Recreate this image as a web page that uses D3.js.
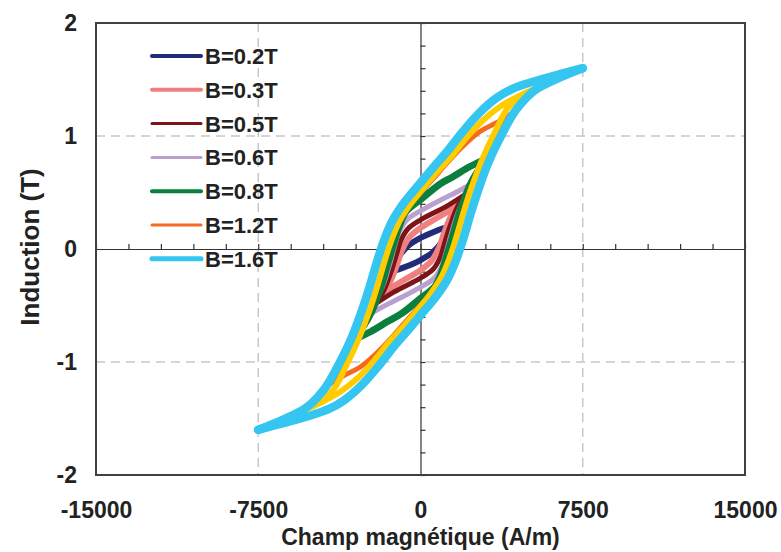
<!DOCTYPE html>
<html>
<head>
<meta charset="utf-8">
<script src="https://cdn.jsdelivr.net/npm/d3@7"></script>
<style>
  html, body { margin: 0; padding: 0; background: #ffffff; }
  svg { display: block; font-family: "Liberation Sans", Arial, sans-serif; }
</style>
</head>
<body>
<svg id="chart" width="781" height="552"></svg>
<script>
// ---------------- data ----------------
const xTickLabels = [-15000, -7500, 0, 7500, 15000];
const yTickLabels = [-2, -1, 0, 1, 2];
const legendLabels = ["B=0.2T", "B=0.3T", "B=0.5T", "B=0.6T", "B=0.8T", "B=1.2T", "B=1.6T"];
const xTitle = "Champ magnétique (A/m)";
const yTitle = "Induction (T)";

// each loop: descending branch (from +tip to -tip) and ascending branch (from -tip to +tip), [H (A/m), B (T)]
const down02 = [[1450,0.21],[720,0.16],[20,0.10],[-580,0.027],[-950,-0.053],[-1180,-0.124],[-1450,-0.21]];
const up02   = [[-1450,-0.21],[-720,-0.16],[-20,-0.10],[580,-0.027],[950,0.053],[1180,0.124],[1450,0.21]];

const down03 = [[1870,0.40],[900,0.29],[20,0.19],[-530,0.10],[-850,-0.01],[-1090,-0.14],[-1410,-0.29],[-1870,-0.40]];
const up03   = [[-1870,-0.40],[-900,-0.29],[-20,-0.19],[530,-0.10],[850,0.01],[1090,0.14],[1410,0.29],[1870,0.40]];

const down05 = [[2200,0.50],[1220,0.38],[20,0.26],[-580,0.18],[-900,0.08],[-1090,-0.035],[-1360,-0.20],[-1730,-0.38],[-2200,-0.50]];
const up05   = [[-2200,-0.50],[-1220,-0.38],[-20,-0.26],[580,-0.18],[900,-0.08],[1090,0.035],[1360,0.20],[1730,0.38],[2200,0.50]];

const down06 = [[2450,0.59],[1830,0.52],[900,0.43],[20,0.34],[-620,0.26],[-990,0.15],[-1180,0.035],[-1410,-0.124],[-1730,-0.32],[-2100,-0.47],[-2450,-0.59]];
const up06   = [[-2450,-0.59],[-1830,-0.52],[-900,-0.43],[-20,-0.34],[620,-0.26],[990,-0.15],[1180,-0.035],[1410,0.124],[1730,0.32],[2100,0.47],[2450,0.59]];

const down08 = [[3050,0.80],[2290,0.73],[1500,0.64],[900,0.575],[20,0.44],[-670,0.33],[-990,0.195],[-1225,0.053],[-1500,-0.124],[-1870,-0.363],[-2330,-0.584],[-3050,-0.80]];
const up08   = [[-3050,-0.80],[-2290,-0.73],[-1500,-0.64],[-900,-0.575],[-20,-0.44],[670,-0.33],[990,-0.195],[1225,-0.053],[1500,0.124],[1870,0.363],[2330,0.584],[3050,0.80]];

const down12 = [[4150,1.19],[3540,1.12],[2750,1.04],[1960,0.91],[1220,0.76],[580,0.62],[20,0.50],[-580,0.37],[-1040,0.24],[-1360,0.08],[-1640,-0.10],[-1960,-0.32],[-2330,-0.54],[-2890,-0.78],[-3540,-1.00],[-4150,-1.19]];
const up12   = [[-4150,-1.19],[-3540,-1.12],[-2750,-1.04],[-1960,-0.91],[-1220,-0.76],[-580,-0.62],[-20,-0.50],[580,-0.37],[1040,-0.24],[1360,-0.08],[1640,0.10],[1960,0.32],[2330,0.54],[2890,0.78],[3540,1.00],[4150,1.19]];

const down14 = [[5350,1.425],[4460,1.345],[3680,1.26],[2890,1.14],[2150,0.99],[1470,0.83],[830,0.695],[270,0.57],[-450,0.40],[-975,0.245],[-1340,0.08],[-1650,-0.10],[-2020,-0.34],[-2390,-0.56],[-2870,-0.80],[-3430,-1.03],[-4090,-1.26],[-4780,-1.345],[-5350,-1.425]];
const up14   = [[-5350,-1.425],[-4460,-1.345],[-3680,-1.26],[-2890,-1.14],[-2150,-0.99],[-1470,-0.83],[-830,-0.695],[-270,-0.57],[450,-0.40],[975,-0.245],[1340,-0.08],[1650,0.10],[2020,0.34],[2390,0.56],[2870,0.80],[3430,1.03],[4090,1.26],[4780,1.345],[5350,1.425]];

const down16 = [[7500,1.60],[6300,1.54],[5200,1.48],[4280,1.42],[3540,1.34],[2750,1.21],[1960,1.04],[1220,0.86],[580,0.72],[20,0.59],[-720,0.42],[-1270,0.26],[-1640,0.10],[-1960,-0.08],[-2330,-0.32],[-2700,-0.54],[-3170,-0.78],[-3720,-1.00],[-4410,-1.23],[-5250,-1.40],[-6350,-1.51],[-7500,-1.60]];
const up16   = [[-7500,-1.60],[-6300,-1.54],[-5200,-1.48],[-4280,-1.42],[-3540,-1.34],[-2750,-1.21],[-1960,-1.04],[-1220,-0.86],[-580,-0.72],[-20,-0.59],[720,-0.42],[1270,-0.26],[1640,-0.10],[1960,0.08],[2330,0.32],[2700,0.54],[3170,0.78],[3720,1.00],[4410,1.23],[5250,1.40],[6350,1.51],[7500,1.60]];

// ---------------- styles ----------------
const seriesColors = ["#232a78", "#f08080", "#7d1518", "#b9a0cf", "#0b7f3e", "#f26b21", "#ffcc00", "#35c5f1"];
const seriesWidths = [6, 6, 5, 5, 7, 5, 6, 8.5];
const legendWidths = [4, 4, 3, 3, 4, 3, 5];

const loops = [
  { label: legendLabels[0], down: down02, up: up02 },
  { label: legendLabels[1], down: down03, up: up03 },
  { label: legendLabels[2], down: down05, up: up05 },
  { label: legendLabels[3], down: down06, up: up06 },
  { label: legendLabels[4], down: down08, up: up08 },
  { label: legendLabels[5], down: down12, up: up12 },
  { label: null,            down: down14, up: up14 },
  { label: legendLabels[6], down: down16, up: up16 }
];
loops.forEach((d, i) => { d.color = seriesColors[i]; d.width = seriesWidths[i]; });

// ---------------- layout ----------------
const svg = d3.select("#chart");
const L = 96, R = 745, T = 23, B = 475;
const x = d3.scaleLinear().domain([-15000, 15000]).range([L, R]);
const y = d3.scaleLinear().domain([-2, 2]).range([B, T]);

// dashed gridlines
const grid = svg.append("g").attr("stroke", "#c8c8c8").attr("stroke-width", 1.5).attr("stroke-dasharray", "9,6");
[-1, 1].forEach(v => grid.append("line").attr("x1", L).attr("x2", R).attr("y1", y(v)).attr("y2", y(v)));
[-7500, 7500].forEach(v => grid.append("line").attr("y1", T).attr("y2", B).attr("x1", x(v)).attr("x2", x(v)));

// central axes with minor ticks
const hAxis = d3.axisTop(x).tickValues(d3.range(-15000, 15001, 1500)).tickSize(5).tickSizeOuter(0).tickFormat("");
const gH = svg.append("g").attr("transform", `translate(0,${y(0)})`).call(hAxis);
const vAxis = d3.axisRight(y).tickValues(d3.range(-10, 11).map(k => k / 5)).tickSize(5).tickSizeOuter(0).tickFormat("");
const gV = svg.append("g").attr("transform", `translate(${x(0)},0)`).call(vAxis);
[gH, gV].forEach(g => { g.selectAll("path,line").attr("stroke", "#333").attr("stroke-width", 1.2); });

// loops
const line = d3.line().x(d => x(d[0])).y(d => y(d[1])).curve(d3.curveCatmullRom.alpha(0.5));
const gl = svg.append("g").attr("fill", "none").attr("stroke-linecap", "round").attr("stroke-linejoin", "round");
loops.forEach(d => {
  [d.down, d.up].forEach(br => {
    gl.append("path").attr("d", line(br)).attr("stroke", d.color).attr("stroke-width", d.width);
  });
});

// frame
svg.append("rect").attr("x", L).attr("y", T).attr("width", R - L).attr("height", B - T)
  .attr("fill", "none").attr("stroke", "#404040").attr("stroke-width", 2);

// tick labels (plain hyphen minus, as in the reference)
const fmt = d => String(d);
const xa = d3.axisBottom(x).tickValues(xTickLabels).tickSize(0).tickPadding(27).tickFormat(fmt);
const gx = svg.append("g").attr("transform", `translate(0,${B})`).call(xa);
const ya = d3.axisLeft(y).tickValues(yTickLabels).tickSize(0).tickPadding(19).tickFormat(fmt);
const gy = svg.append("g").attr("transform", `translate(${L},0)`).call(ya);
[gx, gy].forEach(g => {
  g.select(".domain").remove();
  g.selectAll("text").attr("font-family", "'Liberation Sans', Arial, sans-serif")
    .attr("font-size", 23).attr("font-weight", "bold").attr("fill", "#222");
});

// axis titles
svg.append("text").attr("x", (L + R) / 2).attr("y", 545).attr("text-anchor", "middle")
  .attr("font-size", 23).attr("font-weight", "bold").attr("fill", "#222").text(xTitle);
svg.append("text").attr("transform", `translate(39,${(T + B) / 2 - 2}) rotate(-90)`).attr("text-anchor", "middle")
  .attr("font-size", 26).attr("font-weight", "bold").attr("fill", "#222").text(yTitle);

// legend
const legendItems = loops.filter(d => d.label);
const lg = svg.append("g");
legendItems.forEach((d, i) => {
  const yy = 56 + i * 33.8;
  lg.append("line").attr("x1", 152).attr("x2", 201).attr("y1", yy).attr("y2", yy)
    .attr("stroke", d.color).attr("stroke-width", legendWidths[i]).attr("stroke-linecap", "round");
  lg.append("text").attr("x", 205).attr("y", yy).attr("dy", "0.36em")
    .attr("font-size", 22).attr("font-weight", "bold").attr("fill", "#222").text(d.label);
});
</script>
</body>
</html>
